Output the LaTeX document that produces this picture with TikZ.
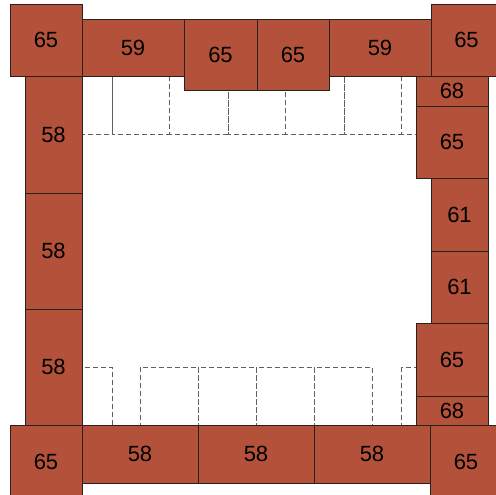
\documentclass[tikz,border=0pt]{standalone}
\usepackage{fontspec}
\setmainfont{Liberation Sans}
\definecolor{brick}{HTML}{B4513B}
\definecolor{edge}{HTML}{2A201C}
\definecolor{dashc}{HTML}{606060}
\begin{document}
\begin{tikzpicture}[x=1pt,y=-1pt,
  boxshape/.style={draw=edge,line width=0.9pt,fill=brick},
  lbl/.style={font=\fontsize{22}{22}\selectfont,text=black,inner sep=0pt},
  seat/.style={draw=dashc,line width=0.6pt,dash pattern=on 5pt off 3pt}]
\useasboundingbox (0,0) rectangle (496,495);
\clip (0,0) rectangle (496,495);
% dashed seat outlines, top row
\foreach \a/\b [count=\i] in {82/112,112/169,169/228,228/285,285/344,344/401,401/416}
  \draw[seat] (\a,76) rectangle (\b,134);
% dashed seat outlines, bottom row
\foreach \a/\b [count=\i] in {82/112,140/198,198/256,256/314,314/372,401/416}
  \draw[seat] (\a,367) rectangle (\b,425);
% solid boxes: name/x1/y1/x2/y2/label
\foreach \n/\xa/\ya/\xb/\yb/\t in {
  tl/10/4/82/76/65, t1/82/19/184/76/59, t2/184/19/257/90/65, t3/257/19/329/90/65,
  t4/329/19/431/76/59, tr/431/4/502/76/65,
  l1/25/76/82/193/58, l2/25/193/82/309/58, l3/25/309/82/425/58,
  bl/10/425/82/499/65, b1/82/425/198/483/58, b2/198/425/314/483/58,
  b3/314/425/430/483/58, br/430/425/502/499/65,
  r1/416/76/488/106/68, r2/416/106/488/178/65, r3/431/178/488/251/61,
  r4/431/251/488/323/61, r5/416/323/488/396/65, r6/416/396/488/425/68}
{
  \draw[boxshape] (\xa,\ya) rectangle (\xb,\yb);
  \node[lbl] (\n) at ({(\xa+\xb)/2},{(\ya+\yb)/2}) {\t};
}
\end{tikzpicture}
\end{document}
